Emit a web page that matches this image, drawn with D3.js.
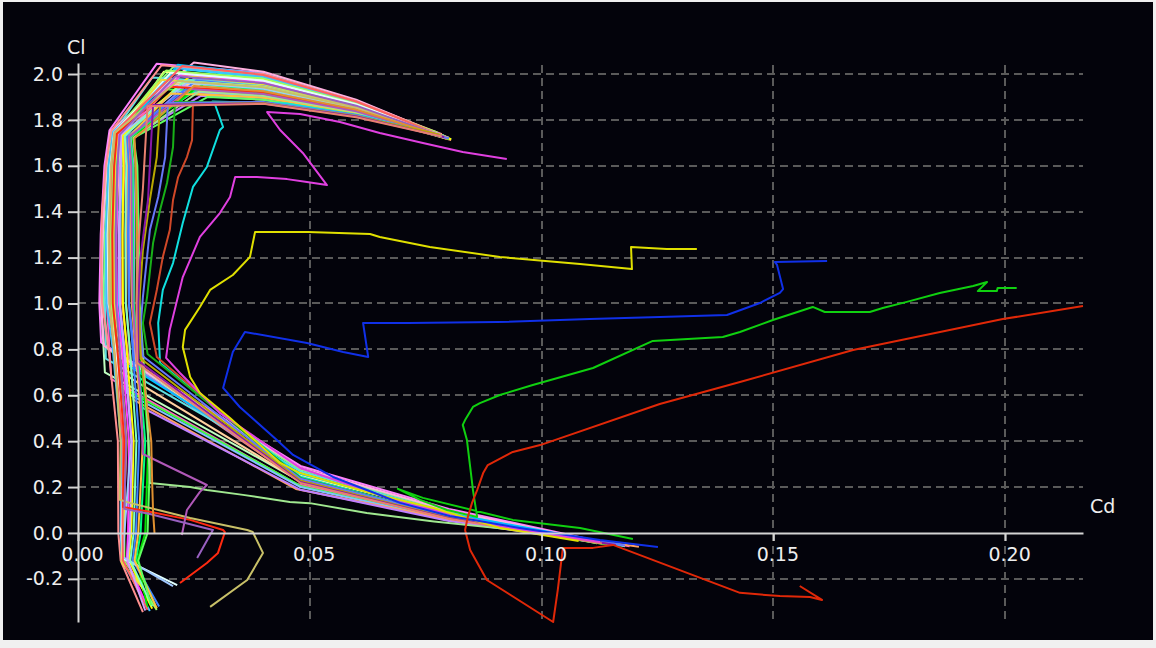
<!DOCTYPE html>
<html>
<head>
<meta charset="utf-8">
<script src="https://cdn.jsdelivr.net/npm/d3@7"></script>
<style>
  html, body { margin: 0; padding: 0; background: #f0f0f0; }
  svg { display: block; }
</style>
</head>
<body>
<svg id="chart" width="1156" height="648"></svg>
<script>
// Axis ticks
const cdTicks = [0.00, 0.05, 0.10, 0.15, 0.20];
const clTicks = [-0.2, 0.0, 0.2, 0.4, 0.6, 0.8, 1.0, 1.2, 1.4, 1.6, 1.8, 2.0];

// Polars, each point = [Cd, Cl]
const polarH1 = [[0.1160,-0.052],[0.080,0.105],[0.048,0.292],[0.0050,0.830],[0.0046,1.00],[0.0049,1.30],[0.0057,1.60],[0.0068,1.755],[0.0170,2.045],[0.040,2.005],[0.060,1.885],[0.0800,1.722]];
const polarH2 = [[0.1140,-0.048],[0.080,0.095],[0.048,0.275],[0.0065,0.800],[0.0055,1.00],[0.0058,1.30],[0.0066,1.60],[0.0075,1.745],[0.0205,2.030],[0.040,1.992],[0.060,1.878],[0.0790,1.730]];
const polarH3 = [[0.1180,-0.058],[0.079,0.090],[0.047,0.262],[0.0080,0.780],[0.0068,1.00],[0.0070,1.30],[0.0076,1.60],[0.0082,1.740],[0.0235,2.020],[0.040,1.984],[0.060,1.874],[0.0805,1.715]];
const polarH4 = [[0.1120,-0.045],[0.081,0.082],[0.048,0.250],[0.0095,0.760],[0.0080,1.00],[0.0082,1.30],[0.0088,1.60],[0.0090,1.735],[0.0185,2.010],[0.040,1.976],[0.060,1.870],[0.0780,1.735]];
const polarH5 = [[0.1170,-0.055],[0.080,0.078],[0.047,0.240],[0.0110,0.740],[0.0095,1.00],[0.0096,1.30],[0.0100,1.60],[0.0098,1.730],[0.0220,1.995],[0.040,1.963],[0.060,1.863],[0.0795,1.718]];
const polarH6 = [[0.1150,-0.050],[0.080,0.072],[0.048,0.232],[0.0125,0.720],[0.0110,1.00],[0.0112,1.30],[0.0114,1.60],[0.0108,1.725],[0.0250,1.980],[0.040,1.950],[0.060,1.857],[0.0785,1.727]];
const polarH7 = [[0.1130,-0.045],[0.081,0.068],[0.048,0.225],[0.0058,0.700],[0.0050,1.00],[0.0054,1.30],[0.0062,1.60],[0.0072,1.750],[0.0195,1.965],[0.040,1.938],[0.060,1.850],[0.0775,1.740]];
const polarH8 = [[0.1190,-0.058],[0.080,0.065],[0.047,0.215],[0.0072,0.670],[0.0062,1.00],[0.0065,1.30],[0.0072,1.60],[0.0080,1.745],[0.0230,1.950],[0.040,1.925],[0.060,1.844],[0.0800,1.720]];
const polarH9 = [[0.1140,-0.050],[0.079,0.062],[0.048,0.205],[0.0090,0.640],[0.0076,1.00],[0.0078,1.30],[0.0083,1.60],[0.0087,1.738],[0.0175,1.935],[0.040,1.913],[0.060,1.837],[0.0770,1.748]];
const polarH10 = [[0.1170,-0.054],[0.080,0.058],[0.048,0.200],[0.0105,0.610],[0.0090,1.00],[0.0091,1.30],[0.0094,1.60],[0.0095,1.732],[0.0210,1.925],[0.040,1.904],[0.060,1.833],[0.0790,1.725]];
const polarH11 = [[0.1210,-0.060],[0.081,0.055],[0.047,0.192],[0.0120,0.580],[0.0104,1.00],[0.0105,1.30],[0.0107,1.60],[0.0104,1.728],[0.0245,1.915],[0.040,1.896],[0.060,1.829],[0.0805,1.712]];
const polarH12 = [[0.1150,-0.050],[0.080,0.052],[0.048,0.188],[0.0135,0.550],[0.0120,1.00],[0.0122,1.30],[0.0120,1.60],[0.0115,1.725],[0.0265,1.905],[0.040,1.888],[0.060,1.824],[0.0780,1.735]];
const polarH13 = [[0.1160,-0.052],[0.080,0.088],[0.048,0.268],[0.0060,0.760],[0.0058,1.00],[0.0062,1.30],[0.0068,1.60],[0.0078,1.748],[0.0160,1.985],[0.040,1.955],[0.060,1.859],[0.0790,1.730]];
const polarH14 = [[0.1180,-0.056],[0.080,0.075],[0.047,0.236],[0.0085,0.710],[0.0072,1.00],[0.0074,1.30],[0.0079,1.60],[0.0085,1.742],[0.0200,1.958],[0.040,1.932],[0.060,1.847],[0.0795,1.722]];
const polarH15 = [[0.1150,-0.050],[0.080,0.098],[0.048,0.283],[0.0056,0.815],[0.0050,1.00],[0.0053,1.30],[0.0061,1.60],[0.0070,1.752],[0.0250,2.050],[0.040,2.010],[0.060,1.888],[0.0795,1.725]];
const polarH16 = [[0.1170,-0.053],[0.080,0.085],[0.048,0.258],[0.0100,0.740],[0.0088,1.00],[0.0089,1.30],[0.0092,1.60],[0.0094,1.734],[0.0215,2.040],[0.040,2.000],[0.060,1.880],[0.0790,1.728]];

const polarL1 = [[0.0140,-0.345],[0.0092,-0.120],[0.0087,0.000],[0.0086,0.400],[0.0066,0.800],[0.0052,1.000],[0.0050,1.200],[0.0052,1.400],[0.0060,1.600],[0.0072,1.752],[0.0180,2.038],[0.040,2.000],[0.060,1.882],[0.0785,1.738]];
const polarL2 = [[0.0155,-0.340],[0.0095,-0.120],[0.0092,0.000],[0.0093,0.400],[0.0075,0.800],[0.0062,1.000],[0.0060,1.300],[0.0066,1.600],[0.0076,1.748],[0.0215,2.025],[0.040,1.988],[0.060,1.876],[0.0800,1.720]];
const polarL3 = [[0.0170,-0.335],[0.0100,-0.120],[0.0100,0.000],[0.0102,0.400],[0.0085,0.800],[0.0072,1.000],[0.0070,1.300],[0.0074,1.600],[0.0080,1.742],[0.0190,2.015],[0.040,1.980],[0.060,1.872],[0.0775,1.745]];
const polarL4 = [[0.0145,-0.300],[0.0105,-0.120],[0.0108,0.000],[0.0110,0.400],[0.0095,0.800],[0.0084,1.000],[0.0083,1.300],[0.0086,1.600],[0.0088,1.738],[0.0225,2.000],[0.040,1.967],[0.060,1.866],[0.0790,1.728]];
const polarL5 = [[0.0160,-0.330],[0.0110,-0.120],[0.0115,0.000],[0.0120,0.400],[0.0105,0.800],[0.0097,1.000],[0.0096,1.300],[0.0098,1.600],[0.0096,1.732],[0.0240,1.988],[0.040,1.957],[0.060,1.860],[0.0805,1.716]];
const polarL6 = [[0.0175,-0.320],[0.0118,-0.120],[0.0125,0.000],[0.0132,0.400],[0.0118,0.800],[0.0110,1.000],[0.0108,1.300],[0.0110,1.600],[0.0106,1.728],[0.0255,1.972],[0.040,1.944],[0.060,1.853],[0.0780,1.738]];
const polarL7 = [[0.0165,-0.310],[0.0125,-0.120],[0.0135,0.000],[0.0145,0.400],[0.0128,0.800],[0.0120,1.000],[0.0119,1.300],[0.0118,1.600],[0.0112,1.726],[0.0270,1.955],[0.040,1.930],[0.060,1.846],[0.0790,1.730]];
const polarL8 = [[0.0150,-0.325],[0.0128,-0.120],[0.0145,0.000],[0.0152,0.400],[0.0134,0.800],[0.0127,1.000],[0.0126,1.300],[0.0124,1.600],[0.0118,1.722],[0.0255,1.940],[0.040,1.917],[0.060,1.840],[0.0800,1.718]];
const polarL9 = [[0.0214,-0.227],[0.0095,-0.110],[0.0094,0.000],[0.0098,0.400],[0.0080,0.800],[0.0066,1.000],[0.0064,1.300],[0.0070,1.600],[0.0078,1.745],[0.0200,2.005],[0.040,1.971],[0.060,1.868],[0.0785,1.732]];
const polarL10 = [[0.0134,-0.227],[0.0095,-0.130],[0.0097,0.000],[0.0105,0.400],[0.0090,0.800],[0.0078,1.000],[0.0077,1.300],[0.0080,1.600],[0.0085,1.740],[0.0180,1.975],[0.040,1.946],[0.060,1.855],[0.0795,1.724]];
const polarL11 = [[0.0205,-0.232],[0.0097,-0.105],[0.0100,0.000],[0.0115,0.400],[0.0100,0.800],[0.0090,1.000],[0.0088,1.300],[0.0092,1.600],[0.0092,1.735],[0.0235,1.962],[0.040,1.936],[0.060,1.850],[0.0780,1.735]];
const polarL12 = [[0.0150,-0.335],[0.0097,-0.120],[0.0096,0.000],[0.0097,0.400],[0.0078,0.800],[0.0068,1.000],[0.0067,1.300],[0.0072,1.600],[0.0079,1.745],[0.0225,2.035],[0.040,1.996],[0.060,1.880],[0.0790,1.728]];
const polarL13 = [[0.0160,-0.320],[0.0113,-0.120],[0.0120,0.000],[0.0126,0.400],[0.0112,0.800],[0.0103,1.000],[0.0102,1.300],[0.0104,1.600],[0.0101,1.730],[0.0230,1.970],[0.040,1.942],[0.060,1.852],[0.0785,1.730]];
const polarL14 = [[0.0170,-0.328],[0.0122,-0.120],[0.0130,0.000],[0.0140,0.400],[0.0124,0.800],[0.0116,1.000],[0.0114,1.300],[0.0114,1.600],[0.0110,1.727],[0.0200,1.915],[0.040,1.898],[0.060,1.830],[0.0795,1.722]];
const polarL15 = [[0.0145,-0.338],[0.0107,-0.120],[0.0112,0.000],[0.0116,0.400],[0.0100,0.800],[0.0090,1.000],[0.0089,1.300],[0.0092,1.600],[0.0093,1.735],[0.0190,1.950],[0.040,1.925],[0.060,1.845],[0.0780,1.738]];
const polarL16 = [[0.0158,-0.315],[0.0130,-0.120],[0.0150,0.000],[0.0155,0.300],[0.0140,0.800],[0.0133,1.000],[0.0131,1.300],[0.0128,1.600],[0.0120,1.722],[0.0280,1.900],[0.040,1.888],[0.060,1.824],[0.0800,1.718]];

const polarLightGreen = [[0.1050,-0.010],[0.0910,0.020],[0.0768,0.050],[0.0623,0.087],[0.0500,0.130],[0.0457,0.135],[0.0356,0.166],[0.0278,0.187],[0.0242,0.200],[0.0155,0.218],[0.0150,0.500],[0.0138,0.800],[0.0130,1.000],[0.0128,1.300],[0.0125,1.600],[0.0120,1.722],[0.0262,1.925],[0.040,1.905],[0.060,1.834],[0.0790,1.722]];
const polarScarlet = [[0.0220,-0.218],[0.0278,-0.131],[0.0302,-0.087],[0.0317,0.004],[0.0313,0.013],[0.0242,0.057],[0.0155,0.092],[0.0097,0.113],[0.0100,0.400],[0.0085,0.800],[0.0075,1.000],[0.0074,1.300],[0.0078,1.600],[0.0084,1.740],[0.0200,1.945],[0.040,1.921],[0.060,1.842],[0.0785,1.728]];
const polarKhaki = [[0.0285,-0.322],[0.0365,-0.205],[0.0399,-0.087],[0.0377,0.004],[0.0365,0.013],[0.0242,0.065],[0.0112,0.131],[0.0090,0.145],[0.0092,0.400],[0.0078,0.800],[0.0068,1.000],[0.0066,1.300],[0.0071,1.600],[0.0079,1.744],[0.0215,1.970],[0.040,1.942],[0.060,1.854],[0.0800,1.722]];
const polarMauveA = [[0.0224,-0.009],[0.0235,0.100],[0.0263,0.179],[0.0278,0.209],[0.0140,0.344],[0.0135,0.600],[0.0125,0.800],[0.0118,1.000],[0.0116,1.300],[0.0115,1.600],[0.0110,1.726],[0.0240,1.935],[0.040,1.913],[0.060,1.838],[0.0795,1.720]];
const polarMauveB = [[0.0257,-0.109],[0.0291,0.013],[0.0155,0.083],[0.0100,0.105],[0.0104,0.400],[0.0090,0.800],[0.0082,1.000],[0.0081,1.300],[0.0085,1.600],[0.0090,1.736],[0.0210,1.990],[0.040,1.960],[0.060,1.862],[0.0790,1.726]];
const polarOrange = [[0.0165,0.000],[0.0162,0.090],[0.0160,0.220],[0.0158,0.400],[0.0140,0.700],[0.0132,0.900],[0.0128,1.200],[0.0126,1.500],[0.0122,1.720],[0.0250,1.948],[0.040,1.925],[0.060,1.845],[0.0785,1.730]];

const polarCyan = [[0.1170,-0.052],[0.080,0.070],[0.048,0.245],[0.0177,0.741],[0.0173,0.915],[0.0183,1.059],[0.0205,1.176],[0.0226,1.351],[0.0248,1.508],[0.0278,1.595],[0.0306,1.756],[0.0313,1.769],[0.0296,1.865],[0.0290,1.880],[0.045,1.872],[0.062,1.815],[0.0780,1.730]];
const polarBrick = [[0.1160,-0.050],[0.080,0.068],[0.048,0.232],[0.0170,0.767],[0.0155,0.915],[0.0170,1.059],[0.0183,1.203],[0.0198,1.320],[0.0205,1.451],[0.0216,1.551],[0.0235,1.638],[0.0246,1.712],[0.0248,1.874],[0.040,1.872],[0.060,1.818],[0.0790,1.725]];
const polarGreenIn = [[0.1140,-0.048],[0.080,0.070],[0.048,0.240],[0.0150,0.780],[0.0140,0.915],[0.0149,1.028],[0.0162,1.264],[0.0177,1.407],[0.0192,1.525],[0.0205,1.682],[0.0209,1.878],[0.040,1.876],[0.060,1.820],[0.0785,1.728]];
const polarPeriwinkle = [[0.1180,-0.055],[0.080,0.072],[0.048,0.236],[0.0140,0.770],[0.0135,0.900],[0.0140,1.028],[0.0155,1.320],[0.0173,1.464],[0.0188,1.638],[0.0194,1.874],[0.040,1.878],[0.060,1.821],[0.0800,1.720]];
const polarOlive = [[0.1150,-0.050],[0.080,0.066],[0.048,0.228],[0.0135,0.760],[0.0132,1.000],[0.0140,1.233],[0.0155,1.451],[0.0170,1.638],[0.0177,1.865],[0.040,1.874],[0.060,1.817],[0.0780,1.735]];
const polarPurple = [[0.1160,-0.052],[0.080,0.064],[0.048,0.222],[0.0130,0.750],[0.0130,1.000],[0.0134,1.190],[0.0151,1.451],[0.0162,1.865],[0.040,1.872],[0.060,1.815],[0.0790,1.725]];
const polarSalmon = [[0.1130,-0.046],[0.080,0.062],[0.048,0.218],[0.0128,0.740],[0.0126,1.000],[0.0128,1.200],[0.0140,1.500],[0.0150,1.860],[0.040,1.870],[0.060,1.812],[0.0785,1.728]];

const polarMagenta = [[0.1126,-0.039],[0.0910,0.030],[0.0695,0.135],[0.0479,0.283],[0.0306,0.523],[0.0220,0.697],[0.0190,0.763],[0.0198,0.885],[0.0226,1.115],[0.0263,1.290],[0.0306,1.394],[0.0328,1.464],[0.0339,1.551],[0.0386,1.551],[0.0451,1.542],[0.0494,1.529],[0.0537,1.516],[0.0485,1.656],[0.0436,1.756],[0.0408,1.834],[0.0479,1.826],[0.0565,1.791],[0.0651,1.743],[0.0744,1.699],[0.0830,1.660],[0.0925,1.630]];
const polarYellow = [[0.1080,-0.035],[0.0910,0.022],[0.0766,0.109],[0.0623,0.179],[0.0479,0.261],[0.0436,0.305],[0.0328,0.501],[0.0263,0.610],[0.0242,0.680],[0.0226,0.810],[0.0231,0.885],[0.0263,0.985],[0.0285,1.059],[0.0334,1.124],[0.0371,1.203],[0.0382,1.312],[0.0496,1.312],[0.0630,1.303],[0.0651,1.290],[0.0759,1.246],[0.0910,1.203],[0.1083,1.172],[0.1195,1.150],[0.1193,1.246],[0.1270,1.237],[0.1335,1.237]];
const polarBlue = [[0.1251,-0.061],[0.1126,-0.031],[0.0953,0.022],[0.0802,0.074],[0.0695,0.131],[0.0623,0.187],[0.0550,0.244],[0.0464,0.340],[0.0429,0.405],[0.0349,0.549],[0.0313,0.632],[0.0334,0.789],[0.0360,0.876],[0.0494,0.828],[0.0572,0.789],[0.0626,0.767],[0.0615,0.915],[0.0712,0.915],[0.0904,0.919],[0.1104,0.932],[0.1255,0.941],[0.1400,0.950],[0.1471,1.002],[0.1514,1.046],[0.1521,1.063],[0.1508,1.168],[0.1503,1.181],[0.1616,1.185]];
const polarGreen = [[0.1197,-0.026],[0.1083,0.022],[0.0938,0.057],[0.0744,0.153],[0.0690,0.192],[0.0738,0.144],[0.0796,0.100],[0.0861,0.070],[0.0852,0.187],[0.0846,0.288],[0.0839,0.405],[0.0830,0.471],[0.0835,0.492],[0.0852,0.549],[0.0867,0.566],[0.0910,0.601],[0.0981,0.645],[0.1111,0.719],[0.1240,0.837],[0.1391,0.854],[0.1428,0.876],[0.1499,0.928],[0.1585,0.985],[0.1611,0.963],[0.1708,0.963],[0.1736,0.980],[0.1788,1.007],[0.1859,1.046],[0.1931,1.076],[0.1961,1.094],[0.1941,1.054],[0.1982,1.054],[0.1984,1.068],[0.2025,1.068]];
const polarRed = [[0.2168,0.989],[0.1995,0.932],[0.1672,0.797],[0.1428,0.658],[0.1255,0.562],[0.0997,0.383],[0.0938,0.353],[0.0884,0.296],[0.0874,0.261],[0.0861,0.187],[0.0850,0.131],[0.0841,0.070],[0.0835,0.013],[0.0846,-0.074],[0.0882,-0.205],[0.1025,-0.388],[0.1035,-0.248],[0.1046,-0.065],[0.1111,-0.065],[0.1154,-0.052],[0.1428,-0.261],[0.1514,-0.275],[0.1579,-0.279],[0.1605,-0.292],[0.1557,-0.231]];

// Drawing order (back to front) and the colour of each polar
const polars = [
  polarH1, polarH2, polarH3, polarH4, polarH5, polarH6, polarH7, polarH8, polarH9, polarH10, polarH11, polarH12, polarH13, polarH14, polarH15, polarH16,
  polarL1, polarL2, polarL3, polarL4, polarL5, polarL6, polarL7, polarL8, polarL9, polarL10, polarL11, polarL12, polarL13, polarL14, polarL15, polarL16,
  polarLightGreen, polarScarlet, polarKhaki, polarMauveA, polarMauveB, polarOrange,
  polarCyan, polarBrick, polarGreenIn, polarPeriwinkle, polarOlive, polarPurple, polarSalmon,
  polarMagenta, polarYellow, polarBlue, polarGreen, polarRed
];
const polarColors = [
  '#ff80ff', '#80ff80', '#00ffff', '#ffff80', '#ff8080', '#8080ff', '#c0ffc0', '#ff60c0', '#40ff40', '#80c0ff', '#ffa060', '#c080ff', '#60e0e0', '#ffd0a0', '#ffb0e0', '#00c0ff',
  '#ff9090', '#40c0ff', '#a0ff60', '#ff40ff', '#ffff00', '#4080ff', '#00ff80', '#00e000', '#e0ffff', '#e8e040', '#a0c8ff', '#ff6060', '#80ffc0', '#ffc040', '#d0a0ff', '#60ff60',
  '#a0e890', '#ff2a10', '#c8c068', '#b058b8', '#9860c0', '#e09030',
  '#10e0e0', '#d04828', '#18b018', '#6878f8', '#b8a800', '#8818a8', '#e88070',
  '#e040e0', '#e0e000', '#1030e8', '#10d010', '#e02808'
];

const W = 1156, H = 648;
const svg = d3.select('#chart');

// window frame and plot background
svg.append('rect').attr('width', W).attr('height', H).attr('fill', '#f0f0f0');
svg.append('rect').attr('x', 3).attr('y', 2).attr('width', W - 6).attr('height', H - 10).attr('fill', '#03030b');

const x = d3.scaleLinear().domain([0, 0.2168]).range([78, 1083]);
const y = d3.scaleLinear().domain([-0.388, 2.048]).range([622, 63]);

const font = 'DejaVu Sans, Verdana, sans-serif';
const textColor = '#eeeeee';
const axisColor = '#d4d4d4';

// dashed grid
const grid = svg.append('g');
grid.selectAll('line.h').data(clTicks.filter(d => d !== 0)).join('line')
  .attr('x1', x(0)).attr('x2', x.range()[1])
  .attr('y1', d => Math.round(y(d))).attr('y2', d => Math.round(y(d)))
  .attr('stroke', '#5a5a5a').attr('stroke-width', 2).attr('stroke-dasharray', '8,5');
grid.selectAll('line.v').data(cdTicks.filter(d => d !== 0)).join('line')
  .attr('x1', d => Math.round(x(d))).attr('x2', d => Math.round(x(d)))
  .attr('y1', y.range()[1] + 2).attr('y2', y.range()[0])
  .attr('stroke', '#5a5a5a').attr('stroke-width', 2).attr('stroke-dasharray', '8,5');

// polars
const line = d3.line().x(d => x(d[0])).y(d => y(d[1]));
svg.append('g').selectAll('path').data(polars).join('path')
  .attr('d', line)
  .attr('fill', 'none')
  .attr('stroke', (d, i) => polarColors[i])
  .attr('stroke-width', 2)
  .attr('stroke-linejoin', 'round');

// axes
const xAxis = d3.axisBottom(x).tickValues(cdTicks).tickFormat(d => d.toFixed(2))
  .tickSizeInner(8).tickSizeOuter(0).tickPadding(7);
const gx = svg.append('g').attr('transform', `translate(0,${y(0)})`).call(xAxis);
const yAxis = d3.axisLeft(y).tickValues(clTicks).tickFormat(d => d.toFixed(1))
  .tickSizeInner(10).tickSizeOuter(0).tickPadding(5);
const gy = svg.append('g').attr('transform', `translate(${x(0)},0)`).call(yAxis);

[gx, gy].forEach(g => {
  g.select('.domain').attr('stroke', axisColor).attr('stroke-width', 2);
  g.selectAll('.tick line').attr('stroke', axisColor).attr('stroke-width', 2);
  g.selectAll('.tick text').attr('fill', textColor).attr('font-family', font).attr('font-size', 19);
});
gx.selectAll('.tick text').attr('dx', 4);

// axis titles
svg.append('text').attr('x', 67).attr('y', 54).text('Cl')
  .attr('fill', textColor).attr('font-family', font).attr('font-size', 19);
svg.append('text').attr('x', 1090).attr('y', 513).text('Cd')
  .attr('fill', textColor).attr('font-family', font).attr('font-size', 19);
</script>
</body>
</html>
